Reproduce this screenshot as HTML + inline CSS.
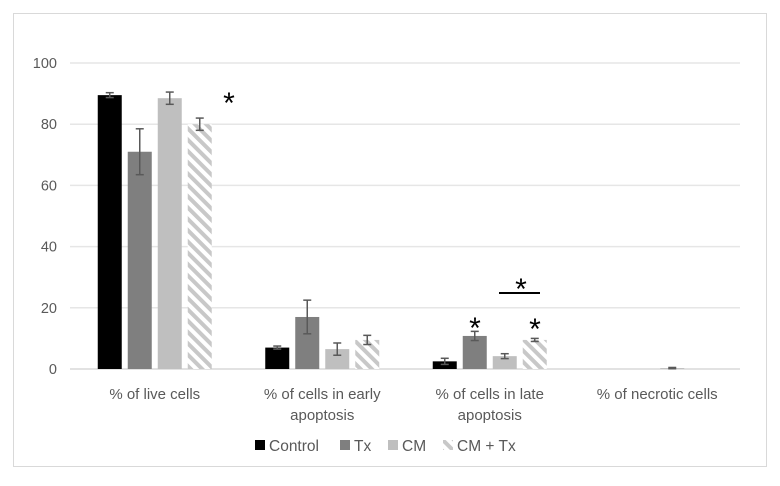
<!DOCTYPE html>
<html><head><meta charset="utf-8"><style>
body{margin:0;background:#fff;font-family:"Liberation Sans",sans-serif}
</style></head><body>
<svg width="780" height="481" id="c">
<defs><pattern id="hatch" patternUnits="userSpaceOnUse" width="8" height="8" patternTransform="rotate(-45)">
<rect width="8" height="8" fill="#fff"/><rect width="4" height="8" fill="#c8c8c8"/></pattern></defs>
<rect x="13.5" y="13.5" width="753" height="453" fill="#fff" stroke="#d9d9d9"/>
<g id="grid"></g><g id="bars"></g><g id="labels"></g>
</svg>
<script>
const categories=[["% of live cells"],["% of cells in early","apoptosis"],["% of cells in late","apoptosis"],["% of necrotic cells"]];
const seriesNames=["Control","Tx","CM","CM + Tx"];
const control=[89.5,7,2.5,0];
const tx=[71,17,10.8,0];
const cm=[88.5,6.5,4.2,0.3];
const cmtx=[80,9.5,9.5,0];
const errControl=[0.8,0.5,1,0];
const errTx=[7.5,5.5,1.5,0];
const errCm=[2,2,0.8,0.2];
const errCmtx=[2,1.5,0.5,0];
const yTicks=[0,20,40,60,80,100];
const series=[control,tx,cm,cmtx], errs=[errControl,errTx,errCm,errCmtx];
const fills=["#000","#7f7f7f","#bfbfbf","url(#hatch)"];
const NS="http://www.w3.org/2000/svg";
const y=v=>369-v*3.06, x0=70, cw=167.5;
function mk(t,a,p){const e=document.createElementNS(NS,t);for(const k in a)e.setAttribute(k,a[k]);p.appendChild(e);return e;}
const grid=document.getElementById('grid'),bars=document.getElementById('bars'),lab=document.getElementById('labels');
yTicks.forEach(t=>{
 const l=mk('line',{x1:70,x2:740,y1:y(t),y2:y(t),stroke:t===0?'#d9d9d9':'#e6e6e6','stroke-width':1.5},grid);
 
 
 const tx_=mk('text',{x:57,y:y(t)+5,'text-anchor':'end','font-size':14.5,fill:'#595959'},lab);tx_.textContent=t;
 
 
});
categories.forEach((c,i)=>{
 const cx=x0+cw*i+cw/2+1;
 series.forEach((s,j)=>{
  const bx=cx-57+j*30, v=s[i];
  const r=mk('rect',{x:bx,y:y(v),width:24,height:369-y(v),fill:fills[j]},bars);
  
  
  const e=errs[j][i];
  if(e>0||v>0){const m=bx+12;
   const g=mk('g',{stroke:'#595959','stroke-width':1.5},bars);
   
   
   mk('line',{x1:m,x2:m,y1:y(v+e),y2:y(v-e)},g);
   mk('line',{x1:m-4,x2:m+4,y1:y(v+e),y2:y(v+e)},g);
   mk('line',{x1:m-4,x2:m+4,y1:y(v-e),y2:y(v-e)},g);}
 });
 c.forEach((ln,k)=>{const t=mk('text',{x:cx,y:399+k*21,'text-anchor':'middle','font-size':15,fill:'#595959'},lab);t.textContent=ln;
  
  });
});
function star(xx,yy){const t=mk('text',{x:xx,y:yy,'text-anchor':'middle','font-size':30,fill:'#000'},lab);t.textContent='*';
 
 }
star(229,113);star(475,338);star(535,339);star(521,299);
const br=mk('line',{x1:499,x2:540,y1:293,y2:293,stroke:'#000','stroke-width':2},lab);


const lx=[255,340,388,443];
seriesNames.forEach((n,j)=>{
 const g=mk('g',{},lab);
 
 
 mk('rect',{x:lx[j],y:440,width:10,height:10,fill:fills[j]},g);
 const t=mk('text',{x:lx[j]+14,y:451,'font-size':15.5,fill:'#595959'},g);t.textContent=n;
});
</script>
</body></html>
